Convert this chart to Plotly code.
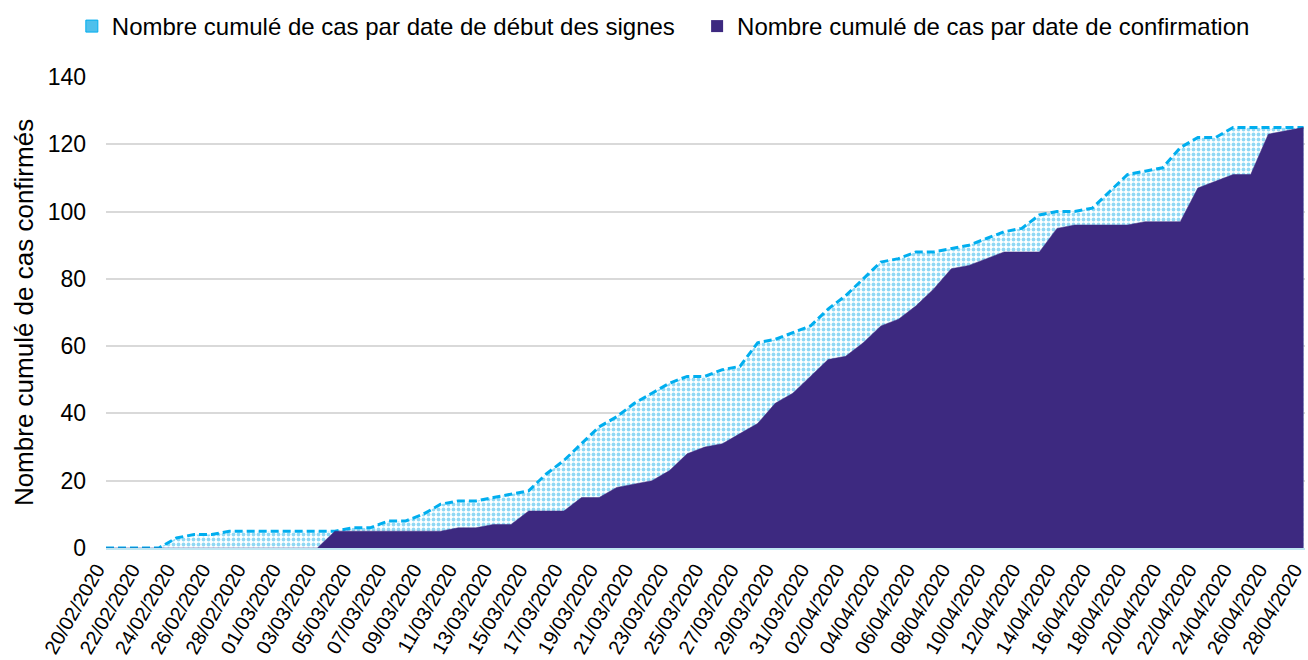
import pandas as pd
import plotly.graph_objects as go

# daily dates, 20/02/2020 -> 28/04/2020
dates = pd.date_range('2020-02-20', '2020-04-28', freq='D')

# cumulative cases by symptom onset date
cas_debut_signes = [
    0, 0, 0, 0, 3, 4, 4, 5, 5, 5,
    5, 5, 5, 5, 6, 6, 8, 8, 10, 13,
    14, 14, 15, 16, 17, 22, 26, 31, 36, 39,
    43, 46, 49, 51, 51, 53, 54, 61, 62, 64,
    66, 71, 75, 80, 85, 86, 88, 88, 89, 90,
    92, 94, 95, 99, 100, 100, 101, 106, 111, 112,
    113, 119, 122, 122, 125, 125, 125, 125, 125,
]

# cumulative cases by confirmation date
cas_confirmation = [
    0, 0, 0, 0, 0, 0, 0, 0, 0, 0,
    0, 0, 0, 5, 5, 5, 5, 5, 5, 5,
    6, 6, 7, 7, 11, 11, 11, 15, 15, 18,
    19, 20, 23, 28, 30, 31, 34, 37, 43, 46,
    51, 56, 57, 61, 66, 68, 72, 77, 83, 84,
    86, 88, 88, 88, 95, 96, 96, 96, 96, 97,
    97, 97, 107, 109, 111, 111, 123, 124, 125,
]

nom_debut = "Nombre cumulé de cas par date de début des signes"
nom_conf = "Nombre cumulé de cas par date de confirmation"

BLEU = '#00AEEF'
VIOLET = '#3D2980'

fig = go.Figure()

# dotted light-blue area with dashed outline
fig.add_trace(go.Scatter(
    x=dates, y=cas_debut_signes, mode='lines', fill='tozeroy',
    line=dict(color=BLEU, width=3, dash='8px,4px'),
    fillcolor='white',
    fillpattern=dict(shape='.', fgcolor='#22B2EA', bgcolor='white',
                     size=5, solidity=0.45),
    showlegend=False, hoverinfo='skip',
))

# solid purple area on top
fig.add_trace(go.Scatter(
    x=dates, y=cas_confirmation, mode='lines', fill='tozeroy',
    line=dict(color=VIOLET, width=0.5), fillcolor=VIOLET,
    showlegend=False, hoverinfo='skip',
))

# small square legend markers, as in the original (one legend box each)
fig.add_trace(go.Scatter(
    x=[None], y=[None], mode='markers', name=nom_debut, legend='legend',
    marker=dict(symbol='square', size=12, color='#4FC0EC',
                line=dict(color=BLEU, width=1)),
))
fig.add_trace(go.Scatter(
    x=[None], y=[None], mode='markers', name=nom_conf, legend='legend2',
    marker=dict(symbol='square', size=12, color=VIOLET),
))

tick_dates = dates[::2]
x_end = dates[-1] + pd.Timedelta(hours=2)

leg_style = dict(orientation='h', xanchor='left', y=1.155, yanchor='top',
                 font=dict(size=24), itemwidth=30)

fig.update_layout(
    width=1308, height=660,
    margin=dict(l=106, r=3, t=77, b=112),
    paper_bgcolor='white', plot_bgcolor='white',
    font=dict(family='Liberation Sans, Arial, sans-serif', color='black'),
    legend=dict(x=-0.0285, **leg_style),
    legend2=dict(x=0.493, **leg_style),
    xaxis=dict(
        type='date', range=[dates[0], x_end], automargin=False,
        tickvals=tick_dates,
        ticktext=[d.strftime('%d/%m/%Y') for d in tick_dates],
        tickangle=-60, tickfont=dict(size=20), ticklabeloverflow='allow',
        ticklabelshift=-9,
        showgrid=False, showline=True, linecolor='#BFE6F2', linewidth=2,
        ticks='',
    ),
    yaxis=dict(
        range=[0, 140], dtick=20, tickfont=dict(size=23), automargin=False,
        ticklabelstandoff=19,
        showgrid=True, gridcolor='#D9D9D9', gridwidth=1.5,
        zeroline=False, ticks='',
        title=dict(text='Nombre cumulé de cas confirmés',
                   font=dict(size=26), standoff=6),
    ),
)

# drop the browser's default body margin so the figure sits at (0, 0)
fig.write_html("out.html", config={'displayModeBar': False},
               post_script="document.body.style.margin='0';")
